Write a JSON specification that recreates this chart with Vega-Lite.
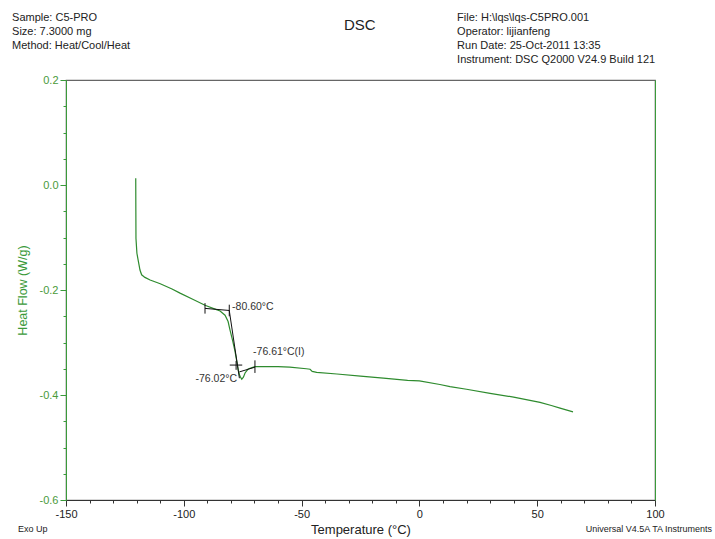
{
  "$schema": "https://vega.github.io/schema/vega-lite/v6.json",
  "width": 589,
  "height": 420,
  "autosize": {"type": "none"},
  "padding": {"left": 66, "top": 80, "right": 60, "bottom": 39},
  "background": "white",
  "config": {
    "view": {"stroke": "#666666", "strokeWidth": 1.2},
    "font": "Liberation Sans",
    "locale": {"number": {"decimal": ".", "thousands": ",", "grouping": [3], "currency": ["", ""], "minus": "-"}}
  },
  "datasets": {
    "curve": [
      {"T": -120.4, "H": 0.013}, {"T": -120.35, "H": -0.05}, {"T": -120.3, "H": -0.102},
      {"T": -119.9, "H": -0.13}, {"T": -119.3, "H": -0.145}, {"T": -118.6, "H": -0.162},
      {"T": -117.9, "H": -0.171}, {"T": -116.5, "H": -0.176}, {"T": -114.3, "H": -0.181},
      {"T": -110, "H": -0.188}, {"T": -105, "H": -0.198}, {"T": -101.6, "H": -0.206},
      {"T": -96, "H": -0.218}, {"T": -91, "H": -0.229}, {"T": -87, "H": -0.236},
      {"T": -84.6, "H": -0.24}, {"T": -82.5, "H": -0.248}, {"T": -81.2, "H": -0.26},
      {"T": -80.4, "H": -0.276}, {"T": -79.3, "H": -0.296}, {"T": -78.3, "H": -0.316},
      {"T": -77.5, "H": -0.336}, {"T": -76.9, "H": -0.352}, {"T": -76.2, "H": -0.364},
      {"T": -75.4, "H": -0.37}, {"T": -74.7, "H": -0.366}, {"T": -74.0, "H": -0.358},
      {"T": -72.8, "H": -0.351}, {"T": -71.9, "H": -0.349}, {"T": -69.8, "H": -0.346},
      {"T": -67.7, "H": -0.346}, {"T": -60, "H": -0.346}, {"T": -55, "H": -0.347},
      {"T": -48, "H": -0.35}, {"T": -46.4, "H": -0.351}, {"T": -45.5, "H": -0.355},
      {"T": -43.6, "H": -0.357}, {"T": -35, "H": -0.36}, {"T": -25, "H": -0.364},
      {"T": -15.3, "H": -0.368}, {"T": -5, "H": -0.372}, {"T": 0, "H": -0.373},
      {"T": 8.7, "H": -0.38}, {"T": 13, "H": -0.384}, {"T": 20, "H": -0.389},
      {"T": 30, "H": -0.397}, {"T": 40, "H": -0.404}, {"T": 51.2, "H": -0.414},
      {"T": 56, "H": -0.42}, {"T": 59.7, "H": -0.425}, {"T": 65.2, "H": -0.432}
    ],
    "rules": [
      {"T": -91.0, "H": -0.235, "T2": -80.7, "H2": -0.239},
      {"T": -91.0, "H": -0.225, "T2": -91.0, "H2": -0.245},
      {"T": -80.7, "H": -0.228, "T2": -80.7, "H2": -0.25},
      {"T": -80.7, "H": -0.239, "T2": -76.4, "H2": -0.368},
      {"T": -76.4, "H": -0.356, "T2": -69.8, "H2": -0.347},
      {"T": -69.8, "H": -0.334, "T2": -69.8, "H2": -0.358},
      {"T": -80.5, "H": -0.343, "T2": -75.2, "H2": -0.343},
      {"T": -77.8, "H": -0.335, "T2": -77.8, "H2": -0.352}
    ],
    "annoLeft": [
      {"T": -79.5, "H": -0.232, "label": "-80.60°C"},
      {"T": -70.6, "H": -0.318, "label": "-76.61°C(I)"}
    ],
    "annoRight": [
      {"T": -77.4, "H": -0.369, "label": "-76.02°C"}
    ],
    "header": [
      {"T": -172.9, "H": 0.318, "label": "Sample: C5-PRO"},
      {"T": -172.9, "H": 0.292, "label": "Size:  7.3000 mg"},
      {"T": -172.9, "H": 0.265, "label": "Method: Heat/Cool/Heat"},
      {"T": 16.0, "H": 0.318, "label": "File: H:\\lqs\\lqs-C5PRO.001"},
      {"T": 16.0, "H": 0.292, "label": "Operator: lijianfeng"},
      {"T": 16.0, "H": 0.265, "label": "Run Date: 25-Oct-2011 13:35"},
      {"T": 16.0, "H": 0.238, "label": "Instrument: DSC Q2000 V24.9 Build 121"}
    ],
    "titleText": [
      {"T": -25.3, "H": 0.305, "label": "DSC"}
    ],
    "footLeft": [
      {"T": -170.4, "H": -0.655, "label": "Exo Up"}
    ],
    "footRight": [
      {"T": 124.2, "H": -0.655, "label": "Universal V4.5A TA Instruments"}
    ]
  },
  "resolve": {"axis": {"x": "independent", "y": "independent"}},
  "layer": [
    {
      "data": {"name": "curve"},
      "mark": {"type": "line", "color": "#2e8b2e", "strokeWidth": 1.2},
      "encoding": {
        "x": {"field": "T", "type": "quantitative", "scale": {"domain": [-150, 100], "nice": false, "zero": false},
          "axis": {"orient": "bottom", "values": [-150, -100, -50, 0, 50, 100], "title": "Temperature (°C)",
            "titleFont": "Liberation Sans", "titleFontSize": 13, "titleFontWeight": "normal", "titleColor": "#222222", "titlePadding": 4,
            "labelFont": "Liberation Sans", "labelFontSize": 11, "labelColor": "#222222", "labelPadding": 2,
            "tickSize": 6, "tickColor": "#333333", "domainColor": "#333333", "grid": false, "labelFlush": false, "labelOverlap": false}},
        "y": {"field": "H", "type": "quantitative", "scale": {"domain": [-0.6, 0.2], "nice": false, "zero": false},
          "axis": {"orient": "left", "values": [-0.6, -0.4, -0.2, 0, 0.2], "format": ".1f", "title": "Heat Flow (W/g)",
            "titleFont": "Liberation Sans", "titleFontSize": 12.5, "titleFontWeight": "normal", "titleColor": "#3a9a3a", "titlePadding": 10,
            "labelFont": "Liberation Sans", "labelFontSize": 11, "labelColor": "#4a9a3a", "labelPadding": 2,
            "tickSize": 6, "tickColor": "#3a9a3a", "domainColor": "#3a9a3a", "grid": false, "labelFlush": false, "labelOverlap": false}}
      }
    },
    {
      "data": {"name": "rules"},
      "mark": {"type": "rule", "color": "#111111", "strokeWidth": 1},
      "encoding": {
        "x": {"field": "T", "type": "quantitative", "scale": {"domain": [-150, 100], "nice": false, "zero": false},
          "axis": {"orient": "bottom", "values": [-140, -130, -120, -110, -90, -80, -70, -60, -40, -30, -20, -10, 10, 20, 30, 40, 60, 70, 80, 90],
            "labels": false, "domain": false, "title": null, "grid": false, "tickSize": 3, "tickColor": "#333333"}},
        "x2": {"field": "T2"},
        "y": {"field": "H", "type": "quantitative", "scale": {"domain": [-0.6, 0.2], "nice": false, "zero": false},
          "axis": {"orient": "left", "values": [-0.55, -0.5, -0.45, -0.35, -0.3, -0.25, -0.15, -0.1, -0.05, 0.05, 0.1, 0.15],
            "labels": false, "domain": false, "title": null, "grid": false, "tickSize": 3, "tickColor": "#3a9a3a"}},
        "y2": {"field": "H2"}
      }
    },
    {
      "data": {"name": "annoLeft"},
      "mark": {"type": "text", "align": "left", "baseline": "middle", "fontSize": 10.5, "font": "Liberation Sans", "color": "#333333"},
      "encoding": {
        "x": {"field": "T", "type": "quantitative", "scale": {"domain": [-150, 100], "nice": false, "zero": false}, "axis": null},
        "y": {"field": "H", "type": "quantitative", "scale": {"domain": [-0.6, 0.2], "nice": false, "zero": false},
          "axis": {"orient": "right", "ticks": false, "labels": false, "title": null, "grid": false, "domainColor": "#3a9a3a"}},
        "text": {"field": "label"}
      }
    },
    {
      "data": {"name": "annoRight"},
      "mark": {"type": "text", "align": "right", "baseline": "middle", "fontSize": 10.5, "font": "Liberation Sans", "color": "#333333"},
      "encoding": {
        "x": {"field": "T", "type": "quantitative", "scale": {"domain": [-150, 100], "nice": false, "zero": false}, "axis": null},
        "y": {"field": "H", "type": "quantitative", "scale": {"domain": [-0.6, 0.2], "nice": false, "zero": false}, "axis": null},
        "text": {"field": "label"}
      }
    },
    {
      "data": {"name": "header"},
      "mark": {"type": "text", "align": "left", "baseline": "middle", "fontSize": 11, "font": "Liberation Sans", "color": "#222222"},
      "encoding": {
        "x": {"field": "T", "type": "quantitative", "scale": {"domain": [-150, 100], "nice": false, "zero": false}, "axis": null},
        "y": {"field": "H", "type": "quantitative", "scale": {"domain": [-0.6, 0.2], "nice": false, "zero": false}, "axis": null},
        "text": {"field": "label"}
      }
    },
    {
      "data": {"name": "titleText"},
      "mark": {"type": "text", "align": "center", "baseline": "middle", "fontSize": 15, "font": "Liberation Sans", "color": "#222222"},
      "encoding": {
        "x": {"field": "T", "type": "quantitative", "scale": {"domain": [-150, 100], "nice": false, "zero": false}, "axis": null},
        "y": {"field": "H", "type": "quantitative", "scale": {"domain": [-0.6, 0.2], "nice": false, "zero": false}, "axis": null},
        "text": {"field": "label"}
      }
    },
    {
      "data": {"name": "footLeft"},
      "mark": {"type": "text", "align": "left", "baseline": "middle", "fontSize": 9, "font": "Liberation Sans", "color": "#222222"},
      "encoding": {
        "x": {"field": "T", "type": "quantitative", "scale": {"domain": [-150, 100], "nice": false, "zero": false}, "axis": null},
        "y": {"field": "H", "type": "quantitative", "scale": {"domain": [-0.6, 0.2], "nice": false, "zero": false}, "axis": null},
        "text": {"field": "label"}
      }
    },
    {
      "data": {"name": "footRight"},
      "mark": {"type": "text", "align": "right", "baseline": "middle", "fontSize": 9, "font": "Liberation Sans", "color": "#222222"},
      "encoding": {
        "x": {"field": "T", "type": "quantitative", "scale": {"domain": [-150, 100], "nice": false, "zero": false}, "axis": null},
        "y": {"field": "H", "type": "quantitative", "scale": {"domain": [-0.6, 0.2], "nice": false, "zero": false}, "axis": null},
        "text": {"field": "label"}
      }
    }
  ]
}
